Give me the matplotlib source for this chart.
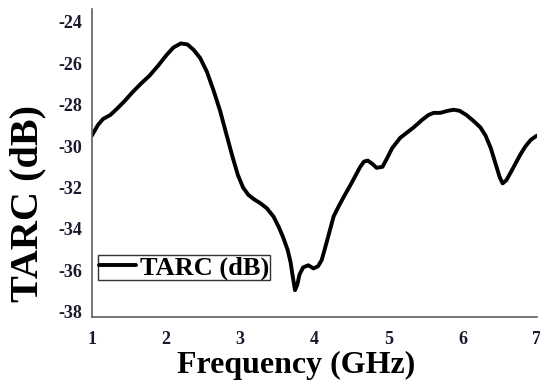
import matplotlib
matplotlib.use("Agg")
import matplotlib.pyplot as plt

# TARC versus frequency
freq_ghz = [1.0, 1.08, 1.15, 1.25, 1.34, 1.45, 1.55, 1.66, 1.78, 1.9, 2.01, 2.1,
            2.2, 2.29, 2.37, 2.46, 2.55, 2.64, 2.73, 2.82, 2.9, 2.97, 3.04, 3.11,
            3.18, 3.27, 3.36, 3.45, 3.52, 3.58, 3.64, 3.68, 3.71, 3.74, 3.77, 3.8,
            3.85, 3.92, 3.99, 4.05, 4.1, 4.17, 4.26, 4.33, 4.39, 4.5, 4.62, 4.67,
            4.72, 4.78, 4.84, 4.92, 4.98, 5.05, 5.16, 5.25, 5.34, 5.45, 5.54, 5.61,
            5.7, 5.8, 5.88, 5.96, 6.05, 6.15, 6.24, 6.31, 6.38, 6.44, 6.5, 6.54,
            6.59, 6.66, 6.72, 6.78, 6.85, 6.92, 7.0]
tarc_db = [-29.5, -29.0, -28.7, -28.5, -28.2, -27.8, -27.4, -27.0, -26.6, -26.1,
           -25.6, -25.25, -25.05, -25.1, -25.35, -25.75, -26.4, -27.3, -28.3, -29.5,
           -30.55, -31.4, -32.0, -32.35, -32.55, -32.75, -33.0, -33.4, -33.9, -34.4,
           -35.0, -35.6, -36.3, -36.95, -36.7, -36.2, -35.85, -35.75, -35.9, -35.8,
           -35.5, -34.6, -33.4, -32.9, -32.5, -31.8, -31.0, -30.75, -30.7, -30.85,
           -31.05, -31.0, -30.6, -30.1, -29.6, -29.35, -29.1, -28.75, -28.5, -28.4,
           -28.4, -28.3, -28.25, -28.3, -28.5, -28.8, -29.1, -29.5, -30.1, -30.8,
           -31.5, -31.8, -31.65, -31.2, -30.8, -30.4, -30.0, -29.7, -29.5]
x_ticks = [1, 2, 3, 4, 5, 6, 7]
y_ticks = [-38, -36, -34, -32, -30, -28, -26, -24]

plt.rcParams["font.family"] = ["Liberation Serif", "DejaVu Serif"]
plt.rcParams["font.weight"] = "bold"

fig = plt.figure(figsize=(5.4, 3.83), dpi=100)
ax = fig.add_axes([0.170, 0.172, 0.824, 0.804])

ax.plot(freq_ghz, tarc_db, color="black", linewidth=2.8,
        solid_capstyle="round", solid_joinstyle="round", label="TARC (dB)")

ax.set_xlim(1, 7)
ax.set_ylim(-38.25, -23.4)
ax.set_xticks(x_ticks)
ax.set_yticks(y_ticks)
ax.set_xticklabels([str(t) for t in x_ticks], fontsize=13, fontweight="bold", color="#1a1a2e")
ax.set_yticklabels([str(t) for t in y_ticks], fontsize=13, fontweight="bold", color="#1a1a2e")
ax.tick_params(length=0)
ax.tick_params(axis="x", pad=10)
ax.tick_params(axis="y", pad=7)

for side in ("top", "right"):
    ax.spines[side].set_visible(False)
for side in ("left", "bottom"):
    ax.spines[side].set_color("#606060")
    ax.spines[side].set_linewidth(1.2)

ax.set_xlabel("Frequency (GHz)", fontsize=23, fontweight="bold")
ax.set_ylabel("TARC (dB)", fontsize=29, fontweight="bold")
ax.xaxis.set_label_coords(0.459, -0.11)
ax.yaxis.set_label_coords(-0.102, 0.37)

leg = ax.legend(loc="lower left", bbox_to_anchor=(0.015, 0.12), borderaxespad=0,
                frameon=True, fancybox=False, handlelength=1.4, handletextpad=0.15,
                borderpad=0.02, prop={"family": "Liberation Serif", "weight": "bold", "size": 19})
leg.get_frame().set_edgecolor("black")
leg.get_frame().set_linewidth(1.0)

fig.savefig("out.png", dpi=100, facecolor="white")
